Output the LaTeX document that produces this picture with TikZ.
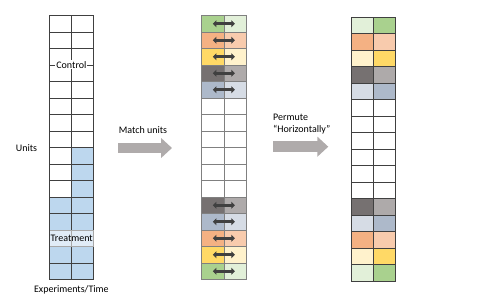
\documentclass[tikz,border=0pt]{standalone}
\usepackage{fontspec}
\setmainfont{Carlito}
\usepackage{tikz}
\usepackage{xcolor}
\usetikzlibrary{arrows.meta}

\definecolor{unitblue}{HTML}{BDD7EE}
\definecolor{dkgreen}{HTML}{A9D18E}
\definecolor{ltgreen}{HTML}{E2F0D9}
\definecolor{dkorange}{HTML}{F4B183}
\definecolor{ltorange}{HTML}{F8CBAD}
\definecolor{dkyellow}{HTML}{FFD966}
\definecolor{ltyellow}{HTML}{FFF2CC}
\definecolor{dkgray}{HTML}{767171}
\definecolor{ltgray}{HTML}{AEAAAA}
\definecolor{dkblue}{HTML}{ADB9CA}
\definecolor{ltblue}{HTML}{D6DCE5}
\definecolor{gridline}{HTML}{404040}
\definecolor{softline}{HTML}{808080}
\definecolor{arrowgray}{HTML}{AFABAB}

\begin{document}
\begin{tikzpicture}[x=1pt,y=-1pt,
    cell/.style={draw=gridline,line width=0.75pt,inner sep=0pt,
        minimum width=22.2pt,minimum height=16.5pt},
    tag/.style={font=\fontsize{10}{12}\selectfont,inner sep=1pt,align=center},
    flow/.style={draw=arrowgray,line width=10.5pt,
        -{Triangle[length=11pt,width=19.5pt]}},
    swap/.style={draw=gridline,line width=2.7pt,
        {Triangle[length=3.6pt,width=6.8pt]}-{Triangle[length=3.6pt,width=6.8pt]}},
    midline/.style={draw=softline,line width=1.4pt}
]
    \useasboundingbox (0,0) rectangle (479,305);

    % units over experiments
    \foreach \r/\lc/\rc in {0/white/white,1/white/white,2/white/white,
        3/white/white,4/white/white,5/white/white,6/white/white,
        7/white/white,8/white/unitblue,9/white/unitblue,10/white/unitblue,
        11/unitblue/unitblue,12/unitblue/unitblue,13/unitblue/unitblue,
        14/unitblue/unitblue,15/unitblue/unitblue} {
        \node[cell,fill=\lc] (u-\r-1) at (60.3,23.75+16.5*\r) {};
        \node[cell,fill=\rc] (u-\r-2) at (82.5,23.75+16.5*\r) {};
    }
    \node[tag,fill=white] (control) at (71.4,64.8) {Control};
    \node[tag,fill=white,fill opacity=0.55,text opacity=1,inner sep=0pt,
        minimum width=44.4pt,minimum height=16.5pt] (treat) at (u-13-1.east)
        {Treatment};
    \node[tag] (units) at (26.5,148) {Units};
    \node[tag] (time) at (71.4,290) {Experiments/Time};

    % matched pairs
    \foreach \r/\lc/\rc in {0/dkgreen/ltgreen,1/dkorange/ltorange,
        2/dkyellow/ltyellow,3/dkgray/ltgray,4/dkblue/ltblue,5/white/white,
        6/white/white,7/white/white,8/white/white,9/white/white,
        10/white/white,11/dkgray/ltgray,12/dkblue/ltblue,
        13/dkorange/ltorange,14/dkyellow/ltyellow,15/dkgreen/ltgreen} {
        \node[cell,draw=softline,fill=\lc] (m-\r-1) at (212.8,23.75+16.5*\r) {};
        \node[cell,draw=softline,fill=\rc] (m-\r-2) at (235.0,23.75+16.5*\r) {};
    }
    \draw[midline] (m-0-1.north east) -- (m-15-1.south east);
    \foreach \r in {0,...,4,11,12,...,15}
        \draw[swap] (m-\r-1.center) -- (m-\r-2.center);

    % permuted pairs
    \foreach \r/\lc/\rc in {0/ltgreen/dkgreen,1/dkorange/ltorange,
        2/ltyellow/dkyellow,3/dkgray/ltgray,4/ltblue/dkblue,5/white/white,
        6/white/white,7/white/white,8/white/white,9/white/white,
        10/white/white,11/dkgray/ltgray,12/ltblue/dkblue,
        13/dkorange/ltorange,14/ltyellow/dkyellow,15/ltgreen/dkgreen} {
        \node[cell,fill=\lc] (p-\r-1) at (362.1,25.35+16.5*\r) {};
        \node[cell,fill=\rc] (p-\r-2) at (384.3,25.35+16.5*\r) {};
    }

    \node[tag] (match) at (143,130) {Match units};
    \coordinate (match-a) at (118,148);
    \coordinate (match-b) at (172,148);
    \draw[flow] (match-a) -- (match-b);

    \node[tag,align=left,anchor=west] (permute) at (272,124)
        {Permute\\“Horizontally”};
    \coordinate (permute-a) at (273.3,146.7);
    \coordinate (permute-b) at (328.3,146.7);
    \draw[flow] (permute-a) -- (permute-b);
\end{tikzpicture}
\end{document}
